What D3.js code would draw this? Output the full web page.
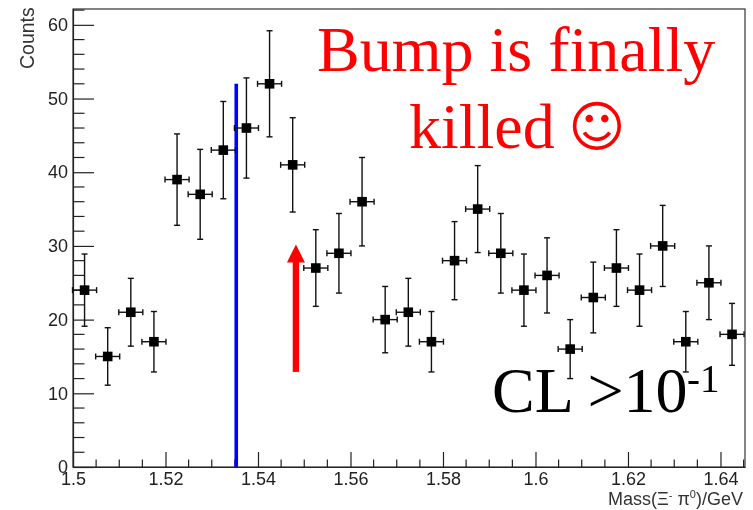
<!DOCTYPE html>
<html lang="en">

<head>
  <meta charset="UTF-8">
  <title>Mass spectrum</title>
  <style>
    html,
    body {
      margin: 0;
      padding: 0;
      background: #fff;
    }

    svg {
      display: block;
      /* the reference is a soft, upscaled picture */
      filter: blur(0.4px);
    }

    .axis text {
      font-family: "Liberation Sans", sans-serif;
      font-size: 18px;
      fill: #222;
    }

    .axis line,
    .axis path {
      stroke: #222;
      stroke-width: 1.2;
    }

    .title {
      font-family: "Liberation Sans", sans-serif;
      fill: #333;
    }

    .note {
      font-family: "Liberation Serif", serif;
    }
  </style>
</head>

<body>
  <svg class="chart" width="753" height="510"></svg>

  <script src="https://cdnjs.cloudflare.com/ajax/libs/d3/7.8.5/d3.min.js"></script>
  <script>
    // bin centres, counts and the error sizes
    const masses = [1.5025, 1.5075, 1.5125, 1.5175, 1.5225, 1.5275, 1.5325, 1.5375, 1.5425, 1.5475,
      1.5525, 1.5575, 1.5625, 1.5675, 1.5725, 1.5775, 1.5825, 1.5875, 1.5925, 1.5975,
      1.6025, 1.6075, 1.6125, 1.6175, 1.6225, 1.6275, 1.6325, 1.6375, 1.6425];
    const counts = [24, 15, 21, 17, 39, 37, 43, 46, 52, 41,
      27, 29, 36, 20, 21, 17, 28, 35, 29, 24,
      26, 16, 23, 27, 24, 30, 17, 25, 18];
    const countErrors = [4.9, 3.9, 4.6, 4.1, 6.2, 6.1, 6.6, 6.8, 7.2, 6.4,
      5.2, 5.4, 6, 4.5, 4.6, 4.1, 5.3, 5.9, 5.4, 4.9,
      5.1, 4, 4.8, 5.2, 4.9, 5.5, 4.1, 5, 4.2];
    const massError = 0.0026;

    const xTicks = [1.5, 1.52, 1.54, 1.56, 1.58, 1.6, 1.62, 1.64];
    const xMinorTicks = [1.505, 1.51, 1.515, 1.525, 1.53, 1.535, 1.545, 1.55, 1.555, 1.565, 1.57, 1.575,
      1.585, 1.59, 1.595, 1.605, 1.61, 1.615, 1.625, 1.63, 1.635, 1.645];
    const yTicks = [0, 10, 20, 30, 40, 50, 60];
    const yMinorTicks = [2, 4, 6, 8, 12, 14, 16, 18, 22, 24, 26, 28, 32, 34, 36, 38,
      42, 44, 46, 48, 52, 54, 56, 58, 62];

    const blueLineMass = 1.5353;
    const blueLineTop = 52;
    const arrowMass = 1.5482;
    const arrowFrom = 12.9;
    const arrowTo = 30.2;

    const margin = { left: 73, top: 9, right: 745, bottom: 467 };
    const svg = d3.select("svg.chart");

    const x = d3.scaleLinear().domain([1.5, 1.6453]).range([margin.left, margin.right]);
    const y = d3.scaleLinear().domain([0, 62.15]).range([margin.bottom, margin.top]);

    // frame
    svg.append("rect")
      .attr("x", margin.left).attr("y", margin.top)
      .attr("width", margin.right - margin.left).attr("height", margin.bottom - margin.top)
      .attr("fill", "none").attr("stroke", "#333").attr("stroke-width", 1.2);

    // axes, ticks point into the plot
    const xAxis = svg.append("g").attr("class", "axis")
      .attr("transform", `translate(0,${margin.bottom})`)
      .call(d3.axisBottom(x).tickValues(xTicks).tickFormat(d3.format(".3~f"))
        .tickSizeInner(-15).tickSizeOuter(0).tickPadding(5));
    xAxis.selectAll("text").attr("dy", "0.71em");

    const yAxis = svg.append("g").attr("class", "axis")
      .attr("transform", `translate(${margin.left},0)`)
      .call(d3.axisLeft(y).tickValues(yTicks).tickSizeInner(-21).tickSizeOuter(0).tickPadding(5));

    xAxis.selectAll(".minor").data(xMinorTicks).enter().append("line")
      .attr("class", "minor")
      .attr("x1", d => x(d)).attr("x2", d => x(d))
      .attr("y1", 0).attr("y2", -7.5);

    yAxis.selectAll(".minor").data(yMinorTicks).enter().append("line")
      .attr("class", "minor")
      .attr("x1", 0).attr("x2", 11.5)
      .attr("y1", d => y(d)).attr("y2", d => y(d));

    // axis titles
    svg.append("text").attr("class", "title")
      .attr("transform", "translate(34,69) rotate(-90)")
      .attr("font-size", 19.5)
      .text("Counts");

    const massTitle = svg.append("text").attr("class", "title")
      .attr("x", 743).attr("y", 505).attr("text-anchor", "end")
      .attr("font-size", 18);
    massTitle.append("tspan").text("Mass(Ξ");
    massTitle.append("tspan").attr("dy", -6).attr("font-size", 11).text("-");
    massTitle.append("tspan").attr("dy", 6).text(" π");
    massTitle.append("tspan").attr("dy", -7).attr("font-size", 11).text("0");
    massTitle.append("tspan").attr("dy", 7).text(")/GeV");

    // blue line
    svg.append("line")
      .attr("x1", x(blueLineMass)).attr("x2", x(blueLineMass))
      .attr("y1", y(0)).attr("y2", y(blueLineTop))
      .attr("stroke", "#0000ff").attr("stroke-width", 3.6);

    // error bars and markers
    const points = svg.append("g").selectAll("g")
      .data(masses)
      .enter()
      .append("g");

    const capSize = 3;
    points.append("line")
      .attr("x1", d => x(d)).attr("x2", d => x(d))
      .attr("y1", (d, i) => y(counts[i] - countErrors[i]))
      .attr("y2", (d, i) => y(counts[i] + countErrors[i]));
    points.append("line")
      .attr("x1", d => x(d - massError)).attr("x2", d => x(d + massError))
      .attr("y1", (d, i) => y(counts[i])).attr("y2", (d, i) => y(counts[i]));
    points.append("line")
      .attr("x1", d => x(d) - capSize).attr("x2", d => x(d) + capSize)
      .attr("y1", (d, i) => y(counts[i] + countErrors[i]))
      .attr("y2", (d, i) => y(counts[i] + countErrors[i]));
    points.append("line")
      .attr("x1", d => x(d) - capSize).attr("x2", d => x(d) + capSize)
      .attr("y1", (d, i) => y(counts[i] - countErrors[i]))
      .attr("y2", (d, i) => y(counts[i] - countErrors[i]));
    points.append("line")
      .attr("x1", d => x(d - massError)).attr("x2", d => x(d - massError))
      .attr("y1", (d, i) => y(counts[i]) - capSize).attr("y2", (d, i) => y(counts[i]) + capSize);
    points.append("line")
      .attr("x1", d => x(d + massError)).attr("x2", d => x(d + massError))
      .attr("y1", (d, i) => y(counts[i]) - capSize).attr("y2", (d, i) => y(counts[i]) + capSize);
    points.selectAll("line").attr("stroke", "#111").attr("stroke-width", 1.4);

    points.append("rect")
      .attr("x", d => x(d) - 4.8)
      .attr("y", (d, i) => y(counts[i]) - 4.8)
      .attr("width", 9.6).attr("height", 9.6)
      .attr("fill", "#000");

    // red arrow
    svg.append("line")
      .attr("x1", x(arrowMass)).attr("x2", x(arrowMass))
      .attr("y1", y(arrowFrom)).attr("y2", y(arrowTo) + 16)
      .attr("stroke", "#ff0000").attr("stroke-width", 6.4);
    svg.append("path")
      .attr("d", d3.line()([
        [x(arrowMass), y(arrowTo)],
        [x(arrowMass) + 9, y(arrowTo) + 18],
        [x(arrowMass) - 9, y(arrowTo) + 18]
      ]) + "Z")
      .attr("fill", "#ff0000");

    // notes
    svg.append("text").attr("class", "note")
      .attr("x", 317).attr("y", 71)
      .attr("font-size", 64).attr("fill", "#ff0000")
      .text("Bump is finally");
    svg.append("text").attr("class", "note")
      .attr("x", 409).attr("y", 148)
      .attr("font-size", 64).attr("fill", "#ff0000")
      .text("killed");
    svg.append("text")
      .attr("x", 597).attr("y", 146)
      .attr("text-anchor", "middle")
      .attr("font-family", "DejaVu Sans").attr("font-size", 55).attr("fill", "#ff0000")
      .text("☺");
    svg.append("text").attr("class", "note")
      .attr("x", 492).attr("y", 412)
      .attr("font-size", 64).attr("fill", "#000")
      .text("CL >10");
    svg.append("text").attr("class", "note")
      .attr("x", 687).attr("y", 392)
      .attr("font-size", 39).attr("fill", "#000")
      .text("-1");
  </script>
</body>

</html>
